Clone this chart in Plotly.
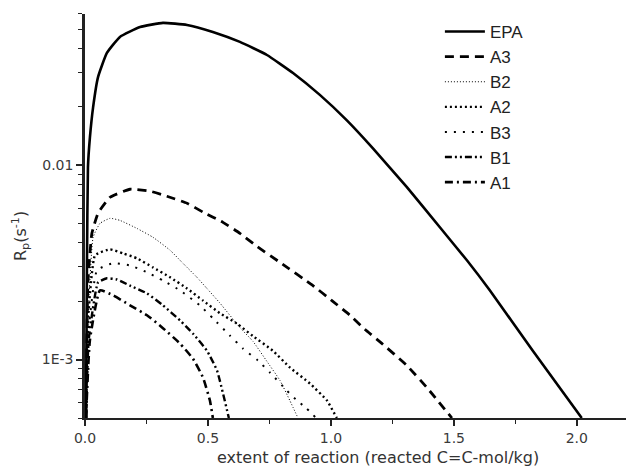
import plotly.graph_objects as go

# Polymerisation rate Rp (s^-1) versus extent of reaction (mol C=C / kg)
epa_x = [0.004, 0.008, 0.012, 0.020, 0.033, 0.053, 0.089, 0.142, 0.224, 0.317, 0.415, 0.520,
         0.630, 0.740, 0.846, 0.955, 1.065, 1.171, 1.309, 1.443, 1.553, 1.646, 1.821, 2.020]
epa_y = [0.0005, 0.00316, 0.00977, 0.0139, 0.0199, 0.0284, 0.0378, 0.0457, 0.0514, 0.0540, 0.0527, 0.0485,
         0.0431, 0.0369, 0.0298, 0.0230, 0.0170, 0.0122, 0.00771, 0.00479, 0.00324, 0.00227, 0.00111, 0.0005]

a3_x = [0.004, 0.012, 0.028, 0.053, 0.102, 0.183, 0.264, 0.333, 0.415, 0.480, 0.561, 0.630, 0.699,
        0.793, 0.927, 1.004, 1.077, 1.138, 1.207, 1.309, 1.390, 1.492]
a3_y = [0.0005, 0.00251, 0.00446, 0.00566, 0.00684, 0.00752, 0.00735, 0.00692, 0.00637, 0.00573, 0.00508, 0.00446, 0.00382,
        0.00316, 0.00240, 0.00201, 0.00169, 0.00143, 0.00121, 0.000931, 0.000718, 0.0005]

b2_x = [0.004, 0.012, 0.033, 0.061, 0.102, 0.142, 0.211, 0.276, 0.346, 0.398, 0.455, 0.496, 0.549,
        0.630, 0.683, 0.740, 0.793, 0.833, 0.866]
b2_y = [0.0005, 0.00158, 0.00426, 0.00502, 0.00533, 0.00520, 0.00473, 0.00426, 0.00365, 0.00313, 0.00265, 0.00232, 0.00195,
        0.00146, 0.00124, 0.000977, 0.000780, 0.000615, 0.0005]

a2_x = [0.004, 0.015, 0.041, 0.102, 0.154, 0.211, 0.276, 0.346, 0.415, 0.480, 0.549, 0.618, 0.683,
        0.764, 0.833, 0.915, 0.984, 1.024]
a2_y = [0.0005, 0.00178, 0.00344, 0.00369, 0.00352, 0.00332, 0.00298, 0.00265, 0.00232, 0.00201, 0.00173, 0.00153, 0.00132,
        0.00111, 0.000910, 0.000752, 0.000615, 0.0005]

b3_x = [0.004, 0.015, 0.049, 0.114, 0.183, 0.252, 0.317, 0.386, 0.467, 0.520, 0.589, 0.642, 0.703,
        0.752, 0.821, 0.862, 0.900, 0.940]
b3_y = [0.0005, 0.00141, 0.00288, 0.00313, 0.00305, 0.00281, 0.00255, 0.00227, 0.00190, 0.00163, 0.00133, 0.00114, 0.000989,
        0.000857, 0.000692, 0.000615, 0.000562, 0.0005]

b1_x = [0.004, 0.015, 0.053, 0.089, 0.130, 0.183, 0.252, 0.317, 0.386, 0.439, 0.496, 0.537, 0.585]
b1_y = [0.0005, 0.00126, 0.00249, 0.00262, 0.00258, 0.00240, 0.00219, 0.00190, 0.00159, 0.00136, 0.00111, 0.000877, 0.0005]

a1_x = [0.004, 0.020, 0.061, 0.114, 0.183, 0.252, 0.317, 0.386, 0.439, 0.480, 0.508, 0.520]
a1_y = [0.0005, 0.00126, 0.00227, 0.00214, 0.00190, 0.00169, 0.00145, 0.00121, 0.00101, 0.000807, 0.000615, 0.0005]

series_names = ["EPA", "A3", "B2", "A2", "B3", "B1", "A1"]
series_x = [epa_x, a3_x, b2_x, a2_x, b3_x, b1_x, a1_x]
series_y = [epa_y, a3_y, b2_y, a2_y, b3_y, b1_y, a1_y]
line_styles = [
    dict(width=2.6, dash="solid"),
    dict(width=2.8, dash="9px,6px"),
    dict(width=1.0, dash="1px,2px"),
    dict(width=2.4, dash="2px,3px"),
    dict(width=2.0, dash="2px,7px"),
    dict(width=2.4, dash="7px,3px,2px,3px,2px,3px"),
    dict(width=2.6, dash="8px,4px,2px,4px"),
]

x_ticks = [0.0, 0.5, 1.0, 1.5, 2.0]
x_tick_text = ["0.0", "0.5", "1.0", "1.5", "2.0"]
y_ticks = [0.001, 0.01]
y_tick_text = ["1E-3", "0.01"]

fig = go.Figure()
for name, xs, ys, st in zip(series_names, series_x, series_y, line_styles):
    fig.add_trace(go.Scatter(
        x=xs, y=ys, name=name, mode="lines",
        line=dict(color="black", shape="spline", smoothing=0.4, **st),
    ))

tick_font = dict(family="DejaVu Sans, sans-serif", size=14, color="#3a3a3a")

fig.update_layout(
    width=626, height=467,
    margin=dict(l=85, r=0, t=14, b=49),
    paper_bgcolor="white", plot_bgcolor="white",
    showlegend=True,
    legend=dict(
        x=0.656, y=1.0, xanchor="left", yanchor="top",
        font=dict(family="Liberation Sans, Arial, sans-serif", size=17, color="#222"),
        bgcolor="rgba(0,0,0,0)", tracegroupgap=0,
        itemwidth=40,
    ),
    xaxis=dict(
        range=[0, 2.2], showgrid=False, zeroline=False,
        showline=True, linecolor="#222", linewidth=2,
        tickmode="array", tickvals=x_ticks, ticktext=x_tick_text,
        ticks="outside", ticklen=6, tickwidth=1.5, tickcolor="#222",
        tickfont=tick_font,
        minor=dict(dtick=0.25, tick0=0, ticks="outside", ticklen=4, tickwidth=1.2, tickcolor="#222"),
    ),
    yaxis=dict(
        type="log", range=[-3.301, -1.222], showgrid=False, zeroline=False,
        showline=True, linecolor="#222", linewidth=2.5,
        tickmode="array", tickvals=y_ticks, ticktext=y_tick_text,
        ticks="outside", ticklen=6, tickwidth=1.5, tickcolor="#222",
        tickfont=tick_font,
        minor=dict(dtick="D1", ticks="outside", ticklen=4, tickwidth=1.2, tickcolor="#222"),
    ),
)

label_font = dict(family="DejaVu Sans, sans-serif", size=16, color="#333")
fig.add_annotation(
    text="extent of reaction (reacted C=C-mol/kg)",
    xref="paper", yref="paper", x=(378 - 85) / 541, y=-0.097,
    xanchor="center", yanchor="middle", showarrow=False, font=label_font,
)
fig.add_annotation(
    text="R<sub>p</sub>(s<sup>-1</sup>)",
    xref="paper", yref="paper", x=-0.12, y=(418 - 236) / 404,
    xanchor="center", yanchor="middle", textangle=-90, showarrow=False, font=label_font,
)

fig.write_html("out.html")
